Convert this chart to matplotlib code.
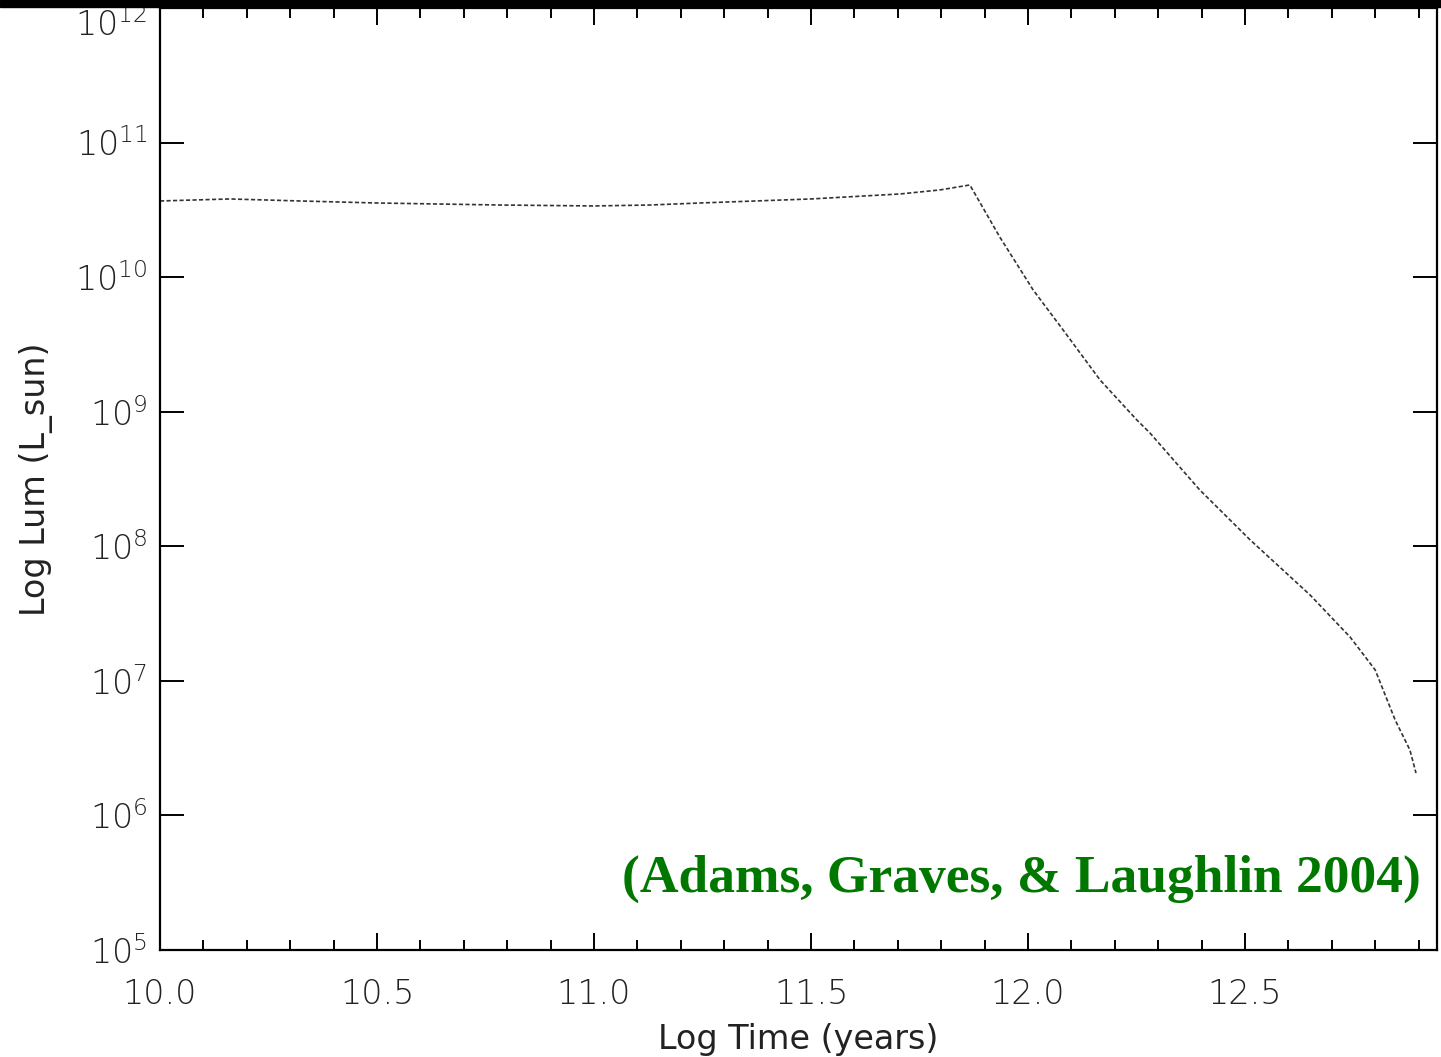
import matplotlib
matplotlib.use("Agg")
import matplotlib.pyplot as plt
import numpy as np
from matplotlib.patches import Rectangle

# values (log t in years, log L in L_sun)
log_time = [10.0, 10.161, 10.323, 10.5, 10.783, 11.0, 11.129, 11.244, 11.5,
            11.705, 11.797, 11.866, 11.935, 12.012, 12.081, 12.166, 12.251,
            12.281, 12.396, 12.512, 12.650, 12.742, 12.800, 12.846, 12.880,
            12.894]
log_lum = [10.566, 10.581, 10.566, 10.551, 10.536, 10.529, 10.536, 10.551,
           10.581, 10.618, 10.648, 10.685, 10.298, 9.904, 9.607, 9.236, 8.938,
           8.842, 8.418, 8.047, 7.638, 7.326, 7.081, 6.709, 6.486, 6.315]

x_major = [10.0, 10.5, 11.0, 11.5, 12.0, 12.5]
y_exps = [5, 6, 7, 8, 9, 10, 11, 12]

plt.rcParams['font.family'] = ['DejaVu Sans']
plt.rcParams['font.weight'] = 'light'
plt.rcParams['mathtext.default'] = 'regular'

fig = plt.figure(figsize=(14.41, 10.57), dpi=100)
ax = fig.add_axes([160/1441, 1-950/1057, (1437-160)/1441, (950-8)/1057])

lum = 10.0 ** np.array(log_lum)
ax.plot(log_time, lum, color='#333333', lw=1.2, linestyle=(0, (2.5, 1.4)))

ax.set_yscale('log')
ax.set_xlim(10.0, 10 + (1437-160)/434)
ax.set_ylim(1e5, 1e12)

ax.set_xticks(x_major)
ax.set_xticklabels(['%.1f' % v for v in x_major])
ax.set_xticks(np.arange(10.1, 12.95, 0.1), minor=True)
ax.set_yticks([10.0**e for e in y_exps])
ax.set_yticklabels([r'$10^{%d}$' % e for e in y_exps])
ax.yaxis.set_minor_locator(matplotlib.ticker.NullLocator())

ax.tick_params(axis='x', which='major', direction='in', length=12, width=1.4,
               top=True, labelsize=24, pad=20, labelcolor='#222222')
ax.tick_params(axis='x', which='minor', direction='in', length=7, width=1.4,
               top=True)
ax.tick_params(axis='y', which='major', direction='in', length=17, width=1.4,
               right=True, labelsize=24, pad=9, labelcolor='#222222')
ax.get_yticklabels()[-1].set_va('top')

for s in ax.spines.values():
    s.set_linewidth(1.6)

ax.set_xlabel('Log Time (years)', fontsize=24, labelpad=9, color='#222222')
ax.set_ylabel('Log Lum (L_sun)', fontsize=24, labelpad=16, color='#222222')

ax.text(0.987, 0.075, '(Adams, Graves, & Laughlin 2004)', transform=ax.transAxes,
        ha='right', va='center', color='#007800', fontsize=38.5,
        fontweight='bold', family='Liberation Serif')

fig.patches.append(Rectangle((0, 1-7/1057), 1, 7/1057, transform=fig.transFigure,
                             color='black', zorder=10))

fig.savefig('out.png', dpi=100)
